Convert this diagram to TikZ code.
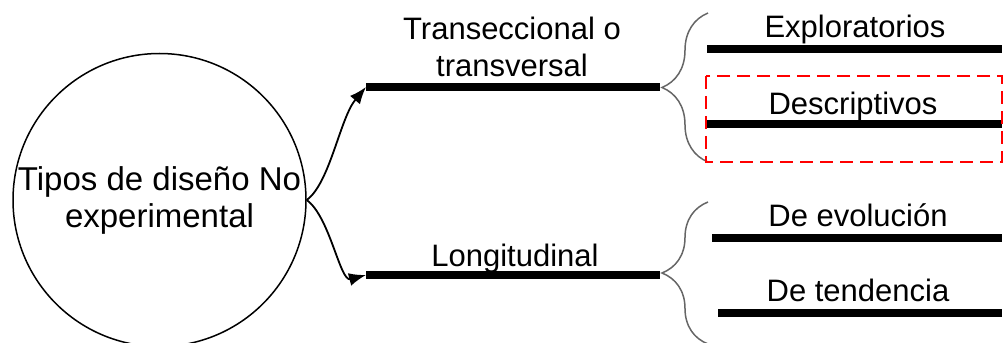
\documentclass[tikz,border=0pt]{standalone}
\usepackage{fontspec}
\setmainfont{Liberation Sans}
\usetikzlibrary{arrows.meta,decorations.pathreplacing}
\begin{document}
\begin{tikzpicture}[x=1pt,y=1pt,flecha/.style={-{Latex[length=17pt,width=13pt]},line width=1.8pt},
	barra/.style={line width=7.5pt},llave/.style={draw=gray!80!black,line width=1.5pt,decorate,decoration={brace,amplitude=46pt}},
	font=\fontsize{31}{37}\selectfont]
	\useasboundingbox (0,0) rectangle (1005,343);
	\node[circle,draw,line width=1.5pt,minimum size=293pt,inner sep=0pt,align=center,font=\fontsize{33}{37}\selectfont] (tipos) at (159.5,143) {Tipos de diseño No\\experimental};
	
	\coordinate (trA) at (366,256); \coordinate (trB) at (660,256);
	\coordinate (loA) at (366,68); \coordinate (loB) at (660,68);
	\draw[barra] (trA)--(trB) (loA)--(loB);
	\node[anchor=base,align=center,inner sep=0pt] (trans) at (512,266) {Transeccional o\\transversal};
	\node[anchor=base,inner sep=0pt] (longi) at (515,76) {Longitudinal};
	\draw[flecha] (tipos.east) .. controls (330,160) and (340,225) .. (trA);
	\draw[flecha] (tipos.east) .. controls (330,126) and (340,61) .. (loA);
	
	\draw[llave] (708,181)--(708,330);
	\draw[llave] (708,-1)--(708,141);
	\foreach \nom/\texto/\xi/\xc/\yl/\yt in {expl/Exploratorios/707/855/294/305,desc/Descriptivos/707/853/219/228,evol/De evolución/712/858/105/116,tend/De tendencia/718/858/30/41}
	{\draw[barra] (\xi,\yl)--(1002,\yl);
	\node[anchor=base,inner sep=0pt] (\nom) at (\xc,\yt) {\texto};}
	\draw[red,line width=1.5pt,dash pattern=on 13pt off 7pt] (706,267) rectangle (1002,181);
\end{tikzpicture}
\end{document}
